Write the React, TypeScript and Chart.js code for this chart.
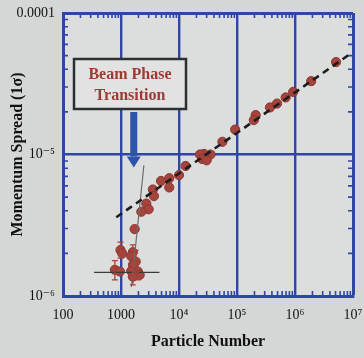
import React, { useEffect, useRef } from "react";
import { Chart, registerables } from "chart.js";

Chart.register(...registerables);

// ---- data ----
const xTickLabels = ["100", "1000", "10⁴", "10⁵", "10⁶", "10⁷"];
const yTickLabels = ["10⁻⁶", "10⁻⁵", "0.0001"];

const particleNumber = [
  5.1e6, 1.9e6, 9.3e5, 6.9e5, 4.9e5, 3.7e5, 2.1e5, 1.95e5, 9.3e4, 5.6e4,
  3.5e4, 2.7e4, 2.3e4, 2.5e4, 3.0e4, 1.3e4, 1.0e4, 6.8e3, 4.9e3, 6.8e3,
  3.54e3, 3.7e3, 2.73e3, 3.0e3, 2.24e3, 1.72e3, 980, 1050, 1600, 1500,
  1790, 1610, 783, 955, 1500, 1950, 2100, 1600,
];
const momentumSpread = [
  4.5e-5, 3.3e-5, 2.77e-5, 2.53e-5, 2.29e-5, 2.15e-5, 1.9e-5, 1.75e-5, 1.5e-5, 1.23e-5,
  1.0e-5, 1.01e-5, 1.0e-5, 9.3e-6, 9.1e-6, 8.3e-6, 7.15e-6, 6.8e-6, 6.5e-6, 5.85e-6,
  5.66e-6, 5.08e-6, 4.5e-6, 4.1e-6, 3.94e-6, 2.97e-6, 2.11e-6, 2.0e-6, 2.04e-6, 1.91e-6,
  1.75e-6, 1.66e-6, 1.53e-6, 1.49e-6, 1.5e-6, 1.49e-6, 1.41e-6, 1.37e-6,
];

// dashed power-law fit
const fitX = [830, 9.3e6];
const fitY = [3.6e-6, 5.2e-5];
// steep transition line
const steepX = [1510, 2480];
const steepY = [1.16e-6, 8.4e-6];
// horizontal error bar of the low-N cluster
const hbarX = [343, 4600];
const hbarY = [1.47e-6, 1.47e-6];
// vertical error bars (x, low, high)
const errX = [783, 980, 1600, 1790, 1950];
const errLo = [1.3e-6, 1.85e-6, 1.2e-6, 1.45e-6, 1.3e-6];
const errHi = [1.78e-6, 2.4e-6, 2.3e-6, 2.1e-6, 1.75e-6];

// annotation
const annotationLines = ["Beam Phase", "Transition"];
const arrowTipX = 1660;
const arrowTipY = 8.1e-6;

const BLUE = "#2f47a3";
const RED = "#a4443c";
const SERIF = "'Liberation Serif', 'DejaVu Serif', serif";

const bgPlugin = {
  id: "bgPlugin",
  beforeDraw(chart: any) {
    const { ctx, chartArea: a, width, height } = chart;
    ctx.save();
    ctx.fillStyle = "#d5d7d6";
    ctx.fillRect(0, 0, width, height);
    ctx.fillStyle = "#dcdedd";
    ctx.fillRect(a.left, a.top, a.right - a.left, a.bottom - a.top);
    ctx.restore();
  },
};

const decorPlugin = {
  id: "decorPlugin",
  afterDatasetsDraw(chart: any) {
    const { ctx, chartArea: a, scales } = chart;
    const xs = scales.x;
    const ys = scales.y;
    ctx.save();
    // minor inward ticks
    ctx.strokeStyle = BLUE;
    ctx.lineWidth = 1.6;
    const L = 5;
    xs.ticks.forEach((t: any) => {
      if (t.major) return;
      const px = xs.getPixelForValue(t.value);
      ctx.beginPath();
      ctx.moveTo(px, a.bottom);
      ctx.lineTo(px, a.bottom - L);
      ctx.moveTo(px, a.top);
      ctx.lineTo(px, a.top + L);
      ctx.stroke();
    });
    ys.ticks.forEach((t: any) => {
      if (t.major) return;
      const py = ys.getPixelForValue(t.value);
      ctx.beginPath();
      ctx.moveTo(a.left, py);
      ctx.lineTo(a.left + L, py);
      ctx.moveTo(a.right, py);
      ctx.lineTo(a.right - L, py);
      ctx.stroke();
    });
    // error bars
    ctx.strokeStyle = RED;
    ctx.lineWidth = 1.3;
    errX.forEach((xv, i) => {
      const px = xs.getPixelForValue(xv);
      const y1 = ys.getPixelForValue(errLo[i]);
      const y2 = ys.getPixelForValue(errHi[i]);
      ctx.beginPath();
      ctx.moveTo(px, y1);
      ctx.lineTo(px, y2);
      ctx.moveTo(px - 3, y1);
      ctx.lineTo(px + 3, y1);
      ctx.moveTo(px - 3, y2);
      ctx.lineTo(px + 3, y2);
      ctx.stroke();
    });

    // annotation box
    const bx = a.left + 11;
    const by = a.top + 46;
    const bw = 112;
    const bh = 50;
    ctx.fillStyle = "#e1e2e1";
    ctx.fillRect(bx, by, bw, bh);
    ctx.strokeStyle = "#2c3032";
    ctx.lineWidth = 2.5;
    ctx.strokeRect(bx, by, bw, bh);
    ctx.fillStyle = "#9c3a33";
    ctx.font = `bold 16px ${SERIF}`;
    ctx.textAlign = "center";
    ctx.textBaseline = "middle";
    ctx.fillText(annotationLines[0], bx + bw / 2, by + 16);
    ctx.fillText(annotationLines[1], bx + bw / 2, by + 37);

    // arrow
    const tx = xs.getPixelForValue(arrowTipX);
    const ty = ys.getPixelForValue(arrowTipY);
    ctx.fillStyle = "#2d54a8";
    ctx.fillRect(tx - 3.5, by + bh + 3, 7, ty - 11 - (by + bh + 3));
    ctx.beginPath();
    ctx.moveTo(tx - 7, ty - 11);
    ctx.lineTo(tx + 7, ty - 11);
    ctx.lineTo(tx, ty);
    ctx.closePath();
    ctx.fill();
    ctx.restore();
  },
};

function buildLogTicks(lo: number, hi: number) {
  const ticks: any[] = [];
  for (let e = lo; e < hi; e++) {
    for (let m = 1; m <= 9; m++) {
      ticks.push({ value: m * Math.pow(10, e), major: m === 1 });
    }
  }
  ticks.push({ value: Math.pow(10, hi), major: true });
  return ticks;
}

export default function App() {
  const ref = useRef<HTMLCanvasElement>(null);
  useEffect(() => {
    if (!ref.current) return;
    const pts = particleNumber.map((x, i) => ({ x, y: momentumSpread[i] }));
    const chart = new Chart(ref.current, {
      type: "scatter",
      data: {
        datasets: [
          {
            data: fitX.map((x, i) => ({ x, y: fitY[i] })),
            showLine: true,
            borderColor: "#1c1c1c",
            borderWidth: 2.6,
            borderDash: [7, 5],
            pointRadius: 0,
          },
          {
            data: steepX.map((x, i) => ({ x, y: steepY[i] })),
            showLine: true,
            borderColor: "#6a6e6c",
            borderWidth: 1.2,
            pointRadius: 0,
          },
          {
            data: hbarX.map((x, i) => ({ x, y: hbarY[i] })),
            showLine: true,
            borderColor: "#3a3c3c",
            borderWidth: 1.3,
            pointRadius: 0,
          },
          {
            data: pts,
            pointRadius: 4.6,
            pointBackgroundColor: RED,
            pointBorderColor: "#8e3630",
            pointBorderWidth: 1,
          },
        ],
      },
      options: {
        responsive: false,
        animation: false,
        events: [],
        layout: { padding: { top: 13, right: 11, left: 0, bottom: 0 } },
        plugins: { legend: { display: false }, tooltip: { enabled: false } },
        scales: {
          x: {
            type: "logarithmic",
            min: 100,
            max: 1e7,
            afterBuildTicks: (s: any) => {
              s.ticks = buildLogTicks(2, 7);
            },
            afterFit: (s: any) => {
              s.height = 62;
              s.paddingLeft = 0;
              s.paddingRight = 0;
            },
            grid: {
              drawTicks: false,
              color: (c: any) => (c.tick && c.tick.major ? BLUE : "rgba(0,0,0,0)"),
              lineWidth: (c: any) => {
                const v = c.tick ? c.tick.value : 0;
                return v >= 1e7 * 0.999 ? 3 : 2.4;
              },
            },
            border: { display: true, color: BLUE, width: 3 },
            ticks: {
              autoSkip: false,
              maxRotation: 0,
              padding: 11,
              color: "#111",
              font: { family: SERIF, size: 14 },
              callback: (v: any, i: number, ticks: any[]) =>
                ticks[i].major ? xTickLabels[Math.round(Math.log10(v)) - 2] : "",
            },
            title: {
              display: true,
              text: "Particle Number",
              color: "#111",
              font: { family: SERIF, size: 16, weight: "bold" },
              padding: { top: 0, bottom: 7 },
            },
          },
          y: {
            type: "logarithmic",
            min: 1e-6,
            max: 1e-4,
            afterBuildTicks: (s: any) => {
              s.ticks = buildLogTicks(-6, -4);
            },
            afterFit: (s: any) => {
              s.width = 63;
              s.paddingTop = 0;
              s.paddingBottom = 0;
            },
            grid: {
              drawTicks: false,
              color: (c: any) => (c.tick && c.tick.major ? BLUE : "rgba(0,0,0,0)"),
              lineWidth: (c: any) => {
                const v = c.tick ? c.tick.value : 0;
                return v >= 1e-4 * 0.999 ? 3 : 2.4;
              },
            },
            border: { display: true, color: BLUE, width: 3 },
            ticks: {
              autoSkip: false,
              padding: 8,
              color: "#111",
              font: { family: SERIF, size: 14 },
              callback: (v: any, i: number, ticks: any[]) =>
                ticks[i].major ? yTickLabels[Math.round(Math.log10(v)) + 6] : "",
            },
            title: {
              display: true,
              text: "Momentum Spread (1σ)",
              color: "#111",
              font: { family: SERIF, size: 16, weight: "bold" },
              padding: 8,
            },
          },
        },
      },
      plugins: [bgPlugin, decorPlugin],
    } as any);
    return () => chart.destroy();
  }, []);
  return (
    <div style={{ position: "absolute", left: 0, top: 0, width: 364, height: 358 }}>
      <canvas ref={ref} width={364} height={358} />
    </div>
  );
}
